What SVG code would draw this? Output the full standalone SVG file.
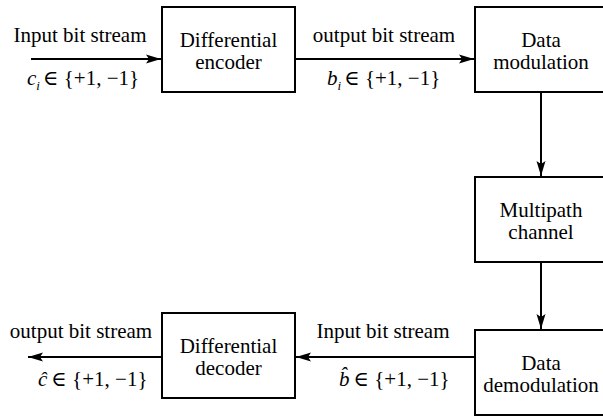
<svg xmlns="http://www.w3.org/2000/svg" width="603" height="417" viewBox="0 0 603 417" font-family="'Liberation Serif', 'Times New Roman', Tinos, 'DejaVu Serif', serif">
  <style>
    .box { fill: #ffffff; stroke: #000000; stroke-width: 2; }
    .wire { fill: none; stroke: #000000; stroke-width: 2; }
    text { font-family: 'Liberation Serif', 'Times New Roman', Tinos, 'DejaVu Serif', serif; font-size: 21px; fill: #000000; }
    .mid { text-anchor: middle; }
    .it { font-style: italic; }
    .sub { font-style: italic; font-size: 13px; }
  </style>
  <defs>
    <marker id="arrow" markerUnits="userSpaceOnUse" markerWidth="16" markerHeight="12" viewBox="0 0 16 12" refX="15" refY="6" orient="auto">
      <path d="M0,1.5 L15,6 L0,10.5 L3,6 Z" fill="#000000"/>
    </marker>
  </defs>

  <!-- connectors -->
  <g id="connectors">
    <line class="wire" x1="31" y1="59" x2="161" y2="59" marker-end="url(#arrow)"/>
    <line class="wire" x1="295" y1="59" x2="474" y2="59" marker-end="url(#arrow)"/>
    <line class="wire" x1="541" y1="93" x2="541" y2="176" marker-end="url(#arrow)"/>
    <line class="wire" x1="541" y1="262" x2="541" y2="329" marker-end="url(#arrow)"/>
    <line class="wire" x1="475" y1="357" x2="296" y2="357" marker-end="url(#arrow)"/>
    <line class="wire" x1="162" y1="357" x2="28" y2="357" marker-end="url(#arrow)"/>
  </g>

  <!-- edge labels -->
  <g id="labels">
    <text class="mid" x="80" y="42">Input bit stream</text>
    <text x="27" y="85"><tspan class="it">c</tspan><tspan class="sub" dy="5">i</tspan><tspan dy="-5" dx="3">∈ {+1, −1}</tspan></text>

    <text class="mid" x="384" y="42">output bit stream</text>
    <text x="327" y="85"><tspan class="it">b</tspan><tspan class="sub" dy="5">i</tspan><tspan dy="-5" dx="3">∈ {+1, −1}</tspan></text>

    <text class="mid" x="383" y="338">Input bit stream</text>
    <text x="339" y="386"><tspan class="it">b̂</tspan><tspan dx="4">∈ {+1, −1}</tspan></text>

    <text class="mid" x="81" y="338">output bit stream</text>
    <text x="38" y="386"><tspan class="it">ĉ</tspan><tspan dx="4">∈ {+1, −1}</tspan></text>
  </g>

  <!-- nodes -->
  <g id="diff-encoder">
    <rect class="box" x="162" y="7" width="133" height="85"/>
    <text class="mid" x="228.5" y="46.5">Differential</text>
    <text class="mid" x="228.5" y="68.5">encoder</text>
  </g>
  <g id="data-modulation">
    <rect class="box" x="475" y="7" width="134" height="85"/>
    <text class="mid" x="541" y="46.5">Data</text>
    <text class="mid" x="541" y="68.5">modulation</text>
  </g>
  <g id="multipath-channel">
    <rect class="box" x="475" y="177" width="134" height="85"/>
    <text class="mid" x="541" y="216.5">Multipath</text>
    <text class="mid" x="541" y="238.5">channel</text>
  </g>
  <g id="data-demodulation">
    <rect class="box" x="475" y="330" width="134" height="85"/>
    <text class="mid" x="541" y="369.5">Data</text>
    <text class="mid" x="541" y="391.5">demodulation</text>
  </g>
  <g id="diff-decoder">
    <rect class="box" x="162" y="313" width="133" height="85"/>
    <text class="mid" x="228.5" y="352.5">Differential</text>
    <text class="mid" x="228.5" y="374.5">decoder</text>
  </g>
</svg>
